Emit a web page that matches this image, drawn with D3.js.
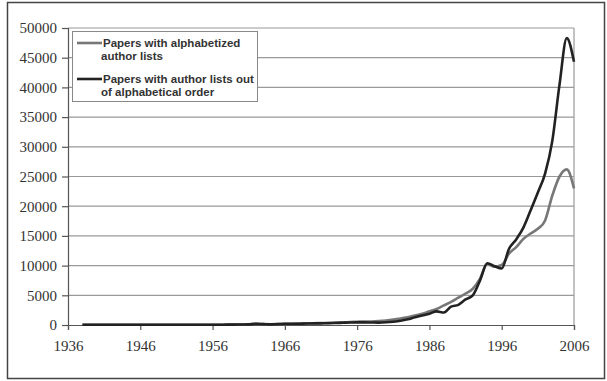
<html>
<head>
<script src="https://cdn.jsdelivr.net/npm/d3@7"></script>
<style>
body { margin: 0; background: #fff; }
</style>
</head>
<body>
<script>
// data
let years = d3.range(1938, 2007)
let alphabetized = [
  30, 30, 30, 30, 30, 30, 30, 30, 30, 30,
  30, 30, 40, 40, 40, 40, 40, 50, 50, 50,
  60, 70, 80, 120, 200, 150, 120, 150, 200, 220,
  240, 270, 300, 330, 360, 400, 450, 500, 550, 600,
  600, 650, 750, 900, 1100, 1300, 1600, 1900, 2300, 2700,
  3300, 3900, 4600, 5300, 6100, 7800, 10300, 9800, 10100, 12000,
  13100, 14500, 15400, 16200, 17600, 21800, 25000, 26200, 23000
]
let outOfOrder = [
  30, 30, 30, 30, 30, 30, 30, 30, 30, 30,
  30, 30, 40, 40, 40, 40, 40, 50, 50, 50,
  60, 70, 80, 100, 200, 150, 100, 150, 200, 200,
  220, 250, 270, 280, 300, 330, 380, 420, 450, 450,
  420, 400, 450, 550, 700, 950, 1300, 1600, 1900, 2300,
  2100, 3100, 3400, 4300, 5000, 7500, 10400, 9900, 9500, 12800,
  14400, 16400, 19300, 22300, 25500, 31000, 40500, 48300, 44300
]
let yTicks = d3.range(0, 50001, 5000)
let xTicks = d3.range(1936, 2007, 10)
let legendLines = [
  ["Papers with alphabetized", "author lists"],
  ["Papers with author lists out", "of alphabetical order"]
]

let w = 607, h = 381
let svg = d3.select("body").append("svg").attr("width", w).attr("height", h)

// outer frame
svg.append("rect")
  .attr("x", 7.5).attr("y", 2.5).attr("width", 597).attr("height", 376)
  .attr("fill", "#fff").attr("stroke", "#444").attr("stroke-width", 1.5)

let x = d3.scaleLinear().domain([1936, 2006]).range([68, 574])
let y = d3.scaleLinear().domain([0, 50000]).range([325, 28])

// gridlines
svg.append("g").selectAll("line")
  .data(yTicks.slice(1))
  .enter().append("line")
  .attr("x1", 68).attr("x2", 574)
  .attr("y1", d => y(d)).attr("y2", d => y(d))
  .attr("stroke", "#999").attr("stroke-width", 1.2)
// right border of plot
svg.append("line")
  .attr("x1", 574).attr("x2", 574).attr("y1", 28).attr("y2", 325)
  .attr("stroke", "#999").attr("stroke-width", 1.2)

// axes
let yAxis = d3.axisLeft(y).tickValues(yTicks).tickSize(6).tickPadding(5).tickFormat(d3.format("d"))
let xAxis = d3.axisBottom(x).tickValues(xTicks).tickSize(5).tickPadding(10).tickFormat(d3.format("d"))
let gy = svg.append("g").attr("transform", "translate(68,0)").call(yAxis)
let gx = svg.append("g").attr("transform", "translate(0,325)").call(xAxis)
for (let g of [gx, gy]) {
  g.select(".domain").attr("stroke", "#555").attr("stroke-width", 1.2)
  g.selectAll(".tick line").attr("stroke", "#555").attr("stroke-width", 1.2)
  g.selectAll("text")
    .attr("font-family", "Liberation Serif, Times New Roman, serif")
    .attr("font-size", 15).attr("fill", "#333")
}

// series lines
let line = d3.line()
  .x((d, i) => x(years[i]))
  .y(d => y(d))
  .curve(d3.curveMonotoneX)
svg.append("path").datum(alphabetized)
  .attr("d", line).attr("fill", "none")
  .attr("stroke", "#777").attr("stroke-width", 2.6)
svg.append("path").datum(outOfOrder)
  .attr("d", line).attr("fill", "none")
  .attr("stroke", "#222").attr("stroke-width", 2.6)

// legend
let lg = svg.append("g")
lg.append("rect")
  .attr("x", 72.5).attr("y", 31.5).attr("width", 185).attr("height", 70)
  .attr("fill", "#fff").attr("stroke", "#888").attr("stroke-width", 1)
let colors = ["#777", "#222"]
legendLines.forEach((t, i) => {
  let ly = 43 + i * 36
  lg.append("line")
    .attr("x1", 77).attr("x2", 102).attr("y1", ly).attr("y2", ly)
    .attr("stroke", colors[i]).attr("stroke-width", 2.6)
  lg.append("text")
    .attr("x", 103).attr("y", ly + 4)
    .attr("font-family", "Liberation Sans, Arial, sans-serif")
    .attr("font-size", 11.5).attr("font-weight", "bold").attr("fill", "#333")
    .text(t[0])
  lg.append("text")
    .attr("x", 101).attr("y", ly + 17)
    .attr("font-family", "Liberation Sans, Arial, sans-serif")
    .attr("font-size", 11.5).attr("font-weight", "bold").attr("fill", "#333")
    .text(t[1])
})
</script>
</body>
</html>
